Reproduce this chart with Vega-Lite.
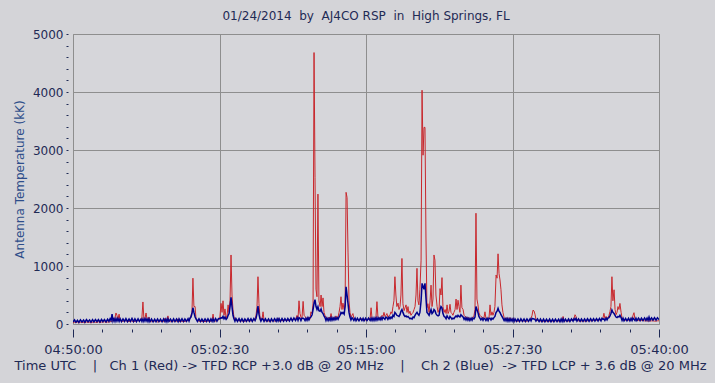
{
  "$schema": "https://vega.github.io/schema/vega-lite/v6.json",
  "width": 586,
  "height": 290,
  "autosize": "none",
  "padding": {"left": 73, "top": 34, "right": 56, "bottom": 59},
  "background": "#D4D4D8",
  "title": {"text": "01/24/2014\u00a0\u00a0by\u00a0\u00a0AJ4CO RSP\u00a0\u00a0in\u00a0\u00a0High Springs, FL", "font": "DejaVu Sans", "fontSize": 12, "fontWeight": "normal", "color": "#1F2A55", "offset": 5, "anchor": "middle"},
  "config": {"view": {"fill": "#D6D6DA", "stroke": "#8C8C8C", "strokeWidth": 1}},
  "data": {"values": [
    {"t":0,"r":20,"b":35},{"t":8,"r":30,"b":70},{"t":15,"r":25,"b":30},{"t":23,"r":35,"b":65},{"t":30,"r":18,"b":28},{"t":38,"r":30,"b":72},{"t":46,"r":30,"b":35},{"t":54,"r":25,"b":68},{"t":61,"r":22,"b":30},{"t":69,"r":35,"b":75},{"t":77,"r":28,"b":38},{"t":85,"r":30,"b":70},{"t":92,"r":20,"b":32},{"t":100,"r":30,"b":74},{"t":107,"r":35,"b":36},{"t":115,"r":30,"b":78},{"t":123,"r":25,"b":40},{"t":130,"r":40,"b":76},{"t":138,"r":22,"b":35},{"t":146,"r":35,"b":80},{"t":153,"r":30,"b":40},{"t":161,"r":40,"b":78},{"t":169,"r":26,"b":38},{"t":177,"r":35,"b":82},{"t":184,"r":32,"b":45},{"t":190,"r":40,"b":90},{"t":195,"r":40,"b":60},{"t":200,"r":60,"b":170},{"t":205,"r":45,"b":50},{"t":210,"r":70,"b":90},{"t":215,"r":110,"b":45},{"t":220,"r":190,"b":95},{"t":225,"r":150,"b":50},{"t":230,"r":80,"b":95},{"t":236,"r":170,"b":45},{"t":241,"r":60,"b":90},{"t":248,"r":50,"b":40},{"t":256,"r":45,"b":88},{"t":264,"r":60,"b":45},{"t":271,"r":55,"b":92},{"t":279,"r":45,"b":40},{"t":287,"r":40,"b":85},{"t":294,"r":60,"b":45},{"t":302,"r":50,"b":95},{"t":310,"r":40,"b":42},{"t":317,"r":45,"b":88},{"t":325,"r":55,"b":40},{"t":333,"r":60,"b":90},{"t":340,"r":50,"b":45},{"t":348,"r":70,"b":85},{"t":353,"r":120,"b":45},{"t":358,"r":380,"b":90},{"t":363,"r":90,"b":45},{"t":369,"r":110,"b":95},{"t":374,"r":190,"b":50},{"t":379,"r":80,"b":88},{"t":384,"r":60,"b":42},{"t":389,"r":120,"b":90},{"t":394,"r":50,"b":40},{"t":402,"r":40,"b":85},{"t":410,"r":45,"b":38},{"t":418,"r":50,"b":82},{"t":425,"r":55,"b":40},{"t":433,"r":35,"b":86},{"t":440,"r":40,"b":42},{"t":448,"r":45,"b":84},{"t":456,"r":50,"b":38},{"t":464,"r":40,"b":88},{"t":471,"r":100,"b":42},{"t":476,"r":45,"b":85},{"t":481,"r":50,"b":40},{"t":486,"r":140,"b":90},{"t":491,"r":50,"b":45},{"t":499,"r":40,"b":85},{"t":507,"r":45,"b":40},{"t":515,"r":50,"b":88},{"t":522,"r":55,"b":42},{"t":530,"r":45,"b":86},{"t":538,"r":90,"b":40},{"t":543,"r":40,"b":88},{"t":550,"r":45,"b":44},{"t":558,"r":50,"b":90},{"t":566,"r":40,"b":42},{"t":573,"r":45,"b":86},{"t":581,"r":55,"b":45},{"t":589,"r":60,"b":92},{"t":594,"r":70,"b":50},{"t":599,"r":90,"b":100},{"t":604,"r":150,"b":120},{"t":609,"r":200,"b":180},{"t":614,"r":790,"b":280},{"t":619,"r":300,"b":200},{"t":625,"r":300,"b":120},{"t":630,"r":80,"b":90},{"t":637,"r":60,"b":45},{"t":645,"r":50,"b":90},{"t":653,"r":45,"b":42},{"t":660,"r":45,"b":86},{"t":668,"r":50,"b":40},{"t":676,"r":40,"b":88},{"t":684,"r":50,"b":45},{"t":691,"r":55,"b":90},{"t":699,"r":45,"b":42},{"t":706,"r":50,"b":88},{"t":712,"r":60,"b":45},{"t":717,"r":170,"b":90},{"t":722,"r":55,"b":45},{"t":730,"r":50,"b":92},{"t":737,"r":60,"b":48},{"t":745,"r":70,"b":95},{"t":752,"r":120,"b":90},{"t":758,"r":355,"b":110},{"t":763,"r":200,"b":100},{"t":768,"r":400,"b":130},{"t":773,"r":150,"b":90},{"t":778,"r":260,"b":120},{"t":784,"r":100,"b":80},{"t":789,"r":150,"b":100},{"t":794,"r":330,"b":150},{"t":799,"r":200,"b":180},{"t":804,"r":410,"b":300},{"t":809,"r":1190,"b":460},{"t":814,"r":500,"b":300},{"t":819,"r":250,"b":150},{"t":824,"r":120,"b":90},{"t":829,"r":80,"b":50},{"t":834,"r":70,"b":95},{"t":842,"r":55,"b":45},{"t":850,"r":60,"b":92},{"t":857,"r":50,"b":45},{"t":865,"r":55,"b":90},{"t":873,"r":45,"b":42},{"t":880,"r":50,"b":88},{"t":888,"r":55,"b":45},{"t":896,"r":60,"b":92},{"t":903,"r":50,"b":48},{"t":911,"r":55,"b":90},{"t":918,"r":60,"b":45},{"t":926,"r":70,"b":95},{"t":932,"r":80,"b":60},{"t":937,"r":150,"b":100},{"t":942,"r":300,"b":180},{"t":947,"r":815,"b":310},{"t":952,"r":350,"b":170},{"t":957,"r":120,"b":90},{"t":962,"r":80,"b":50},{"t":968,"r":90,"b":92},{"t":973,"r":210,"b":80},{"t":978,"r":60,"b":45},{"t":985,"r":55,"b":90},{"t":993,"r":55,"b":45},{"t":1001,"r":50,"b":88},{"t":1009,"r":50,"b":42},{"t":1016,"r":55,"b":90},{"t":1024,"r":60,"b":45},{"t":1032,"r":50,"b":92},{"t":1040,"r":55,"b":48},{"t":1045,"r":60,"b":90},{"t":1050,"r":100,"b":50},{"t":1055,"r":50,"b":92},{"t":1062,"r":55,"b":45},{"t":1070,"r":60,"b":95},{"t":1078,"r":55,"b":48},{"t":1085,"r":70,"b":92},{"t":1093,"r":60,"b":50},{"t":1100,"r":60,"b":95},{"t":1108,"r":70,"b":50},{"t":1116,"r":80,"b":100},{"t":1123,"r":70,"b":55},{"t":1131,"r":90,"b":105},{"t":1139,"r":80,"b":60},{"t":1147,"r":150,"b":110},{"t":1152,"r":100,"b":60},{"t":1157,"r":400,"b":110},{"t":1162,"r":180,"b":100},{"t":1167,"r":120,"b":60},{"t":1172,"r":90,"b":100},{"t":1178,"r":390,"b":100},{"t":1183,"r":150,"b":90},{"t":1188,"r":130,"b":60},{"t":1193,"r":100,"b":100},{"t":1198,"r":90,"b":65},{"t":1203,"r":120,"b":110},{"t":1208,"r":90,"b":70},{"t":1213,"r":80,"b":110},{"t":1218,"r":210,"b":120},{"t":1224,"r":180,"b":160},{"t":1229,"r":360,"b":250},{"t":1234,"r":4680,"b":360},{"t":1239,"r":2530,"b":420},{"t":1244,"r":600,"b":300},{"t":1249,"r":470,"b":250},{"t":1254,"r":2240,"b":300},{"t":1259,"r":400,"b":230},{"t":1265,"r":300,"b":220},{"t":1270,"r":500,"b":260},{"t":1275,"r":300,"b":200},{"t":1280,"r":450,"b":180},{"t":1285,"r":200,"b":140},{"t":1290,"r":150,"b":110},{"t":1295,"r":110,"b":60},{"t":1300,"r":100,"b":105},{"t":1306,"r":90,"b":60},{"t":1311,"r":120,"b":100},{"t":1316,"r":90,"b":65},{"t":1321,"r":180,"b":110},{"t":1326,"r":90,"b":65},{"t":1331,"r":100,"b":105},{"t":1336,"r":110,"b":70},{"t":1341,"r":90,"b":110},{"t":1346,"r":140,"b":75},{"t":1352,"r":100,"b":110},{"t":1357,"r":120,"b":80},{"t":1362,"r":200,"b":120},{"t":1367,"r":300,"b":150},{"t":1372,"r":470,"b":200},{"t":1377,"r":250,"b":180},{"t":1382,"r":360,"b":200},{"t":1388,"r":250,"b":170},{"t":1393,"r":350,"b":300},{"t":1398,"r":2270,"b":640},{"t":1403,"r":2180,"b":500},{"t":1408,"r":1240,"b":350},{"t":1413,"r":400,"b":200},{"t":1418,"r":200,"b":120},{"t":1423,"r":120,"b":70},{"t":1428,"r":150,"b":110},{"t":1433,"r":180,"b":90},{"t":1438,"r":100,"b":60},{"t":1444,"r":90,"b":100},{"t":1449,"r":80,"b":55},{"t":1456,"r":75,"b":98},{"t":1464,"r":70,"b":55},{"t":1471,"r":80,"b":100},{"t":1479,"r":90,"b":60},{"t":1485,"r":70,"b":98},{"t":1490,"r":60,"b":55},{"t":1498,"r":70,"b":100},{"t":1505,"r":70,"b":58},{"t":1513,"r":80,"b":102},{"t":1521,"r":100,"b":60},{"t":1526,"r":280,"b":100},{"t":1531,"r":90,"b":60},{"t":1536,"r":85,"b":102},{"t":1541,"r":80,"b":60},{"t":1546,"r":100,"b":105},{"t":1551,"r":120,"b":65},{"t":1556,"r":385,"b":110},{"t":1561,"r":130,"b":70},{"t":1566,"r":110,"b":105},{"t":1572,"r":100,"b":70},{"t":1577,"r":120,"b":110},{"t":1582,"r":150,"b":75},{"t":1587,"r":130,"b":115},{"t":1592,"r":200,"b":100},{"t":1597,"r":130,"b":80},{"t":1602,"r":150,"b":120},{"t":1607,"r":180,"b":110},{"t":1612,"r":120,"b":80},{"t":1618,"r":140,"b":120},{"t":1623,"r":160,"b":90},{"t":1628,"r":210,"b":120},{"t":1633,"r":180,"b":100},{"t":1638,"r":300,"b":150},{"t":1643,"r":400,"b":130},{"t":1648,"r":815,"b":200},{"t":1653,"r":500,"b":180},{"t":1658,"r":300,"b":150},{"t":1664,"r":360,"b":140},{"t":1669,"r":250,"b":130},{"t":1674,"r":300,"b":160},{"t":1679,"r":500,"b":220},{"t":1684,"r":1130,"b":250},{"t":1689,"r":350,"b":200},{"t":1695,"r":230,"b":150},{"t":1700,"r":280,"b":130},{"t":1705,"r":330,"b":140},{"t":1710,"r":200,"b":120},{"t":1715,"r":300,"b":130},{"t":1720,"r":180,"b":110},{"t":1725,"r":220,"b":90},{"t":1730,"r":150,"b":100},{"t":1736,"r":180,"b":85},{"t":1741,"r":200,"b":120},{"t":1746,"r":250,"b":110},{"t":1751,"r":300,"b":150},{"t":1756,"r":500,"b":180},{"t":1761,"r":960,"b":200},{"t":1766,"r":400,"b":170},{"t":1771,"r":330,"b":150},{"t":1776,"r":600,"b":200},{"t":1782,"r":1100,"b":400},{"t":1787,"r":4030,"b":700},{"t":1792,"r":2910,"b":650},{"t":1797,"r":3390,"b":600},{"t":1802,"r":3390,"b":700},{"t":1807,"r":1500,"b":450},{"t":1812,"r":280,"b":200},{"t":1817,"r":350,"b":180},{"t":1823,"r":200,"b":150},{"t":1828,"r":400,"b":200},{"t":1833,"r":670,"b":250},{"t":1838,"r":300,"b":180},{"t":1843,"r":430,"b":200},{"t":1848,"r":1190,"b":250},{"t":1853,"r":1100,"b":230},{"t":1858,"r":500,"b":180},{"t":1864,"r":300,"b":150},{"t":1869,"r":200,"b":140},{"t":1874,"r":250,"b":150},{"t":1879,"r":610,"b":250},{"t":1884,"r":500,"b":300},{"t":1889,"r":800,"b":280},{"t":1894,"r":300,"b":180},{"t":1900,"r":200,"b":130},{"t":1905,"r":250,"b":120},{"t":1910,"r":180,"b":90},{"t":1915,"r":330,"b":140},{"t":1920,"r":180,"b":110},{"t":1925,"r":220,"b":90},{"t":1930,"r":340,"b":130},{"t":1935,"r":200,"b":110},{"t":1940,"r":180,"b":85},{"t":1945,"r":150,"b":100},{"t":1950,"r":200,"b":90},{"t":1956,"r":250,"b":120},{"t":1961,"r":430,"b":140},{"t":1966,"r":250,"b":120},{"t":1971,"r":410,"b":150},{"t":1976,"r":300,"b":130},{"t":1981,"r":200,"b":120},{"t":1986,"r":670,"b":160},{"t":1991,"r":280,"b":140},{"t":1997,"r":250,"b":120},{"t":2002,"r":150,"b":80},{"t":2007,"r":130,"b":110},{"t":2012,"r":120,"b":70},{"t":2017,"r":110,"b":105},{"t":2022,"r":100,"b":65},{"t":2027,"r":110,"b":100},{"t":2032,"r":90,"b":60},{"t":2038,"r":95,"b":100},{"t":2043,"r":100,"b":65},{"t":2048,"r":120,"b":105},{"t":2053,"r":150,"b":90},{"t":2058,"r":250,"b":120},{"t":2063,"r":1910,"b":300},{"t":2068,"r":430,"b":250},{"t":2073,"r":330,"b":200},{"t":2078,"r":200,"b":130},{"t":2083,"r":150,"b":100},{"t":2088,"r":130,"b":70},{"t":2094,"r":120,"b":100},{"t":2099,"r":100,"b":65},{"t":2104,"r":110,"b":100},{"t":2109,"r":210,"b":90},{"t":2114,"r":100,"b":60},{"t":2120,"r":95,"b":98},{"t":2125,"r":90,"b":60},{"t":2130,"r":120,"b":100},{"t":2135,"r":330,"b":100},{"t":2140,"r":150,"b":70},{"t":2145,"r":210,"b":100},{"t":2150,"r":150,"b":85},{"t":2155,"r":200,"b":110},{"t":2160,"r":300,"b":130},{"t":2166,"r":845,"b":200},{"t":2171,"r":790,"b":220},{"t":2176,"r":1210,"b":270},{"t":2181,"r":870,"b":220},{"t":2186,"r":760,"b":200},{"t":2191,"r":590,"b":160},{"t":2196,"r":330,"b":130},{"t":2201,"r":200,"b":100},{"t":2207,"r":110,"b":60},{"t":2212,"r":90,"b":95},{"t":2217,"r":90,"b":55},{"t":2222,"r":110,"b":95},{"t":2227,"r":80,"b":50},{"t":2232,"r":70,"b":92},{"t":2237,"r":110,"b":50},{"t":2242,"r":60,"b":90},{"t":2248,"r":70,"b":48},{"t":2253,"r":100,"b":90},{"t":2258,"r":60,"b":45},{"t":2263,"r":55,"b":88},{"t":2271,"r":50,"b":45},{"t":2278,"r":50,"b":86},{"t":2286,"r":55,"b":42},{"t":2293,"r":60,"b":88},{"t":2301,"r":50,"b":44},{"t":2309,"r":55,"b":86},{"t":2316,"r":45,"b":42},{"t":2324,"r":50,"b":88},{"t":2332,"r":60,"b":45},{"t":2340,"r":80,"b":90},{"t":2345,"r":100,"b":55},{"t":2350,"r":150,"b":95},{"t":2355,"r":240,"b":90},{"t":2360,"r":225,"b":85},{"t":2365,"r":170,"b":80},{"t":2370,"r":80,"b":50},{"t":2378,"r":60,"b":88},{"t":2386,"r":55,"b":42},{"t":2393,"r":50,"b":85},{"t":2401,"r":50,"b":40},{"t":2409,"r":45,"b":84},{"t":2416,"r":45,"b":38},{"t":2424,"r":50,"b":82},{"t":2432,"r":50,"b":40},{"t":2440,"r":45,"b":84},{"t":2447,"r":45,"b":38},{"t":2455,"r":50,"b":82},{"t":2462,"r":50,"b":40},{"t":2470,"r":55,"b":85},{"t":2478,"r":55,"b":42},{"t":2486,"r":50,"b":84},{"t":2493,"r":50,"b":40},{"t":2499,"r":55,"b":86},{"t":2504,"r":60,"b":45},{"t":2509,"r":130,"b":88},{"t":2514,"r":50,"b":42},{"t":2521,"r":55,"b":85},{"t":2529,"r":55,"b":45},{"t":2537,"r":50,"b":86},{"t":2544,"r":60,"b":44},{"t":2552,"r":65,"b":88},{"t":2560,"r":80,"b":50},{"t":2565,"r":90,"b":92},{"t":2570,"r":160,"b":70},{"t":2575,"r":130,"b":95},{"t":2580,"r":60,"b":48},{"t":2588,"r":55,"b":88},{"t":2596,"r":50,"b":45},{"t":2603,"r":50,"b":86},{"t":2611,"r":55,"b":45},{"t":2619,"r":50,"b":88},{"t":2626,"r":50,"b":46},{"t":2634,"r":55,"b":90},{"t":2642,"r":60,"b":48},{"t":2650,"r":55,"b":92},{"t":2657,"r":55,"b":50},{"t":2665,"r":60,"b":92},{"t":2672,"r":60,"b":50},{"t":2680,"r":65,"b":94},{"t":2688,"r":70,"b":52},{"t":2695,"r":70,"b":96},{"t":2703,"r":80,"b":55},{"t":2708,"r":85,"b":98},{"t":2713,"r":100,"b":80},{"t":2718,"r":185,"b":90},{"t":2723,"r":100,"b":60},{"t":2729,"r":130,"b":100},{"t":2734,"r":90,"b":70},{"t":2739,"r":110,"b":105},{"t":2744,"r":150,"b":110},{"t":2749,"r":215,"b":140},{"t":2754,"r":300,"b":180},{"t":2759,"r":815,"b":240},{"t":2764,"r":400,"b":200},{"t":2770,"r":590,"b":180},{"t":2775,"r":250,"b":150},{"t":2780,"r":160,"b":120},{"t":2785,"r":200,"b":110},{"t":2790,"r":300,"b":130},{"t":2795,"r":250,"b":120},{"t":2800,"r":355,"b":150},{"t":2806,"r":200,"b":110},{"t":2811,"r":100,"b":60},{"t":2816,"r":80,"b":98},{"t":2821,"r":70,"b":55},{"t":2829,"r":65,"b":96},{"t":2836,"r":60,"b":55},{"t":2844,"r":65,"b":98},{"t":2851,"r":65,"b":55},{"t":2857,"r":70,"b":98},{"t":2862,"r":80,"b":60},{"t":2867,"r":150,"b":100},{"t":2872,"r":195,"b":80},{"t":2877,"r":80,"b":60},{"t":2882,"r":70,"b":100},{"t":2887,"r":60,"b":58},{"t":2895,"r":60,"b":100},{"t":2903,"r":55,"b":60},{"t":2910,"r":60,"b":102},{"t":2918,"r":60,"b":60},{"t":2926,"r":55,"b":104},{"t":2933,"r":55,"b":62},{"t":2939,"r":55,"b":104},{"t":2944,"r":50,"b":65},{"t":2949,"r":55,"b":120},{"t":2954,"r":50,"b":65},{"t":2962,"r":55,"b":106},{"t":2969,"r":55,"b":66},{"t":2977,"r":50,"b":108},{"t":2985,"r":50,"b":68},{"t":2992,"r":55,"b":108},{"t":3000,"r":55,"b":75}
  ]},
  "transform": [{"fold": ["r", "b"], "as": ["ch", "v"]}],
  "mark": {"type": "line", "clip": true},
  "encoding": {
    "x": {
      "field": "t", "type": "quantitative",
      "scale": {"domain": [0, 3000], "nice": false, "zero": false},
      "axis": {
        "values": [0,150,300,450,600,750,900,1050,1200,1350,1500,1650,1800,1950,2100,2250,2400,2550,2700,2850,3000],
        "labelExpr": "datum.value % 750 === 0 ? timeFormat(datetime(2014,0,24,4,50,datum.value), '%H:%M:%S') : ''",
        "labelFont": "DejaVu Sans", "labelFontSize": 13, "labelColor": "#1F2A55",
        "labelOverlap": false, "labelFlush": false, "labelPadding": 6,
        "offset": 5, "domain": false,
        "tickColor": "#1F2A55",
        "tickSize": {"condition": {"test": "datum.value % 750 === 0", "value": 8}, "value": 3},
        "grid": true, "gridColor": "#8E8E8E",
        "gridOpacity": {"condition": {"test": "datum.value % 750 === 0", "value": 1}, "value": 0},
        "title": "Time UTC\u00a0\u00a0\u00a0\u00a0|\u00a0\u00a0\u00a0Ch 1 (Red) -> TFD RCP +3.0 dB @ 20 MHz\u00a0\u00a0\u00a0\u00a0|\u00a0\u00a0\u00a0\u00a0Ch 2 (Blue)\u00a0\u00a0-> TFD LCP + 3.6 dB @ 20 MHz",
        "titleFont": "DejaVu Sans", "titleFontSize": 13, "titleFontWeight": "normal", "titleColor": "#1F2A55",
        "titleAnchor": "start", "titleAlign": "left", "titleBaseline": "middle",
        "titleX": -59, "titleY": 36
      }
    },
    "y": {
      "field": "v", "type": "quantitative",
      "scale": {"domain": [0, 5000], "nice": false},
      "axis": {
        "values": [0,200,400,600,800,1000,1200,1400,1600,1800,2000,2200,2400,2600,2800,3000,3200,3400,3600,3800,4000,4200,4400,4600,4800,5000],
        "labelExpr": "datum.value % 1000 === 0 ? format(datum.value, 'd') : ''",
        "labelFont": "DejaVu Sans", "labelFontSize": 12, "labelColor": "#1F2A55",
        "labelOverlap": false, "labelFlush": false, "labelPadding": 3,
        "offset": 5, "domain": false, "tickSize": 2, "tickColor": "#1F2A55",
        "grid": true, "gridColor": "#8E8E8E",
        "gridOpacity": {"condition": {"test": "datum.value % 1000 === 0", "value": 1}, "value": 0},
        "title": "Antenna Temperature (kK)",
        "titleFont": "DejaVu Sans", "titleFontSize": 12, "titleFontWeight": "normal", "titleColor": "#2E4E8A",
        "titleAngle": -90, "titleBaseline": "middle", "titleAlign": "center",
        "titleX": -49, "titleY": 145
      }
    },
    "color": {"field": "ch", "type": "nominal", "scale": {"domain": ["r", "b"], "range": ["#C8282D", "#00008C"]}, "legend": null},
    "strokeWidth": {"field": "ch", "type": "nominal", "scale": {"domain": ["r", "b"], "range": [1, 1.5]}, "legend": null}
  }
}
